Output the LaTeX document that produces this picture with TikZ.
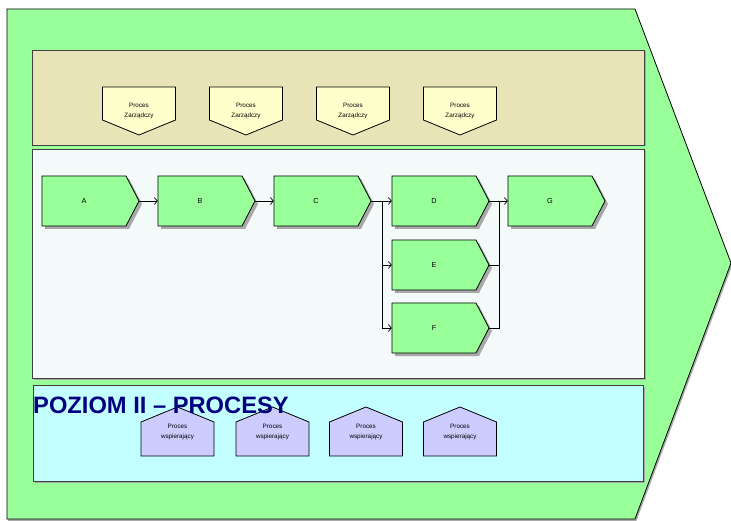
\documentclass[tikz,border=0pt]{standalone}
\usepackage{fontspec}
\setmainfont{Liberation Sans}
\usetikzlibrary{arrows.meta}
\definecolor{outergreen}{HTML}{99FF99}
\definecolor{mgmtband}{HTML}{E8E4B8}
\definecolor{procband}{HTML}{F4FAFA}
\definecolor{suppband}{HTML}{C4FFFF}
\definecolor{mgmtfill}{HTML}{FFFFCC}
\definecolor{suppfill}{HTML}{CCCCFF}
\definecolor{titleblue}{HTML}{000080}
\definecolor{shadowgray}{HTML}{A8A8A8}
\begin{document}
\begin{tikzpicture}[x=1pt,y=-1pt,
  outline/.style={draw=black,line width=0.8pt,line join=miter},
  band/.style={draw={black!75},line width=0.7pt},
  procshape/.pic={
    \fill[shadowgray] (-45.5,-22) -- (38.5,-22) -- (51.5,3) -- (38.5,28) -- (-45.5,28) -- cycle;
    \filldraw[outline,fill=outergreen] (-48.5,-25) -- (35.5,-25) -- (48.5,0) -- (35.5,25) -- (-48.5,25) -- cycle;
  },
  mgmtshape/.pic={
    \filldraw[outline,fill=mgmtfill] (-36.5,-24) -- (36.5,-24) -- (36.5,9) -- (0,24) -- (-36.5,9) -- cycle;
  },
  suppshape/.pic={
    \filldraw[outline,fill=suppfill] (-36.5,24.5) -- (36.5,24.5) -- (36.5,-9.5) -- (0,-24.5) -- (-36.5,-9.5) -- cycle;
  },
  plabel/.style={minimum width=97pt,minimum height=50pt,inner sep=0pt,font=\fontsize{7.3}{8}\selectfont},
  slabel/.style={align=center,inner sep=0pt,font=\fontsize{6.3}{10}\selectfont},
  conn/.style={draw=black,line width=0.7pt},
  arr/.style={conn,-{Straight Barb[length=3pt,width=7pt]}},
]
\useasboundingbox (0,0) rectangle (731,521);
\fill[white] (0,0) rectangle (731,521);
% outer chevron
\fill[shadowgray] (8,12) -- (636,12) -- (732,266) -- (636,522) -- (8,522) -- cycle;
\filldraw[outline,fill=outergreen] (7,9) -- (635,9) -- (731,263) -- (635,519) -- (7,519) -- cycle;
% bands
\fill[shadowgray] (33.5,51.5) rectangle (645.5,146.5);
\filldraw[band,fill=mgmtband] (32,50) rectangle (644,145);
\fill[shadowgray] (33.5,150.5) rectangle (645.5,380);
\filldraw[band,fill=procband] (32,149) rectangle (644,378.5);
\fill[shadowgray] (34.5,386.5) rectangle (644.5,482.5);
\filldraw[band,fill=suppband] (33,385) rectangle (643,481);
% management processes
\foreach \n/\x in {m1/139,m2/246,m3/353,m4/460}{
  \pic at (\x,111) {mgmtshape};
  \node[slabel] (\n) at (\x,111) {Proces\\Zarządczy};
}
% main processes
\foreach \n/\x/\y in {A/90.5/201,B/206.5/201,C/322.5/201,D/440.5/201,E/440.5/265,F/440.5/328,G/556.5/201}{
  \pic at (\x,\y) {procshape};
  \node[plabel] (\n) at (\x,\y) {\n\hspace*{13pt}};
}
\coordinate (split) at (382,201);
\coordinate (merge) at (499,201);
\draw[arr] (A.east) -- (B.west);
\draw[arr] (B.east) -- (C.west);
\draw[arr] (C.east) -- (D.west);
\draw[arr] (split) |- (E.west);
\draw[arr] (split) |- (F.west);
\draw[arr] (D.east) -- (G.west);
\draw[conn] (E.east) -| (merge);
\draw[conn] (F.east) -| (merge);
% support processes
\foreach \n/\x in {s1/177.5,s2/272.5,s3/366,s4/460}{
  \pic at (\x,431.5) {suppshape};
  \node[slabel] (\n) at (\x,431.5) {Proces\\wspierający};
}
% title
\node[anchor=base west,inner sep=0pt,text=titleblue,font=\fontsize{23.7}{26}\selectfont\bfseries] (title) at (33,413) {POZIOM II – PROCESY};
\end{tikzpicture}
\end{document}
